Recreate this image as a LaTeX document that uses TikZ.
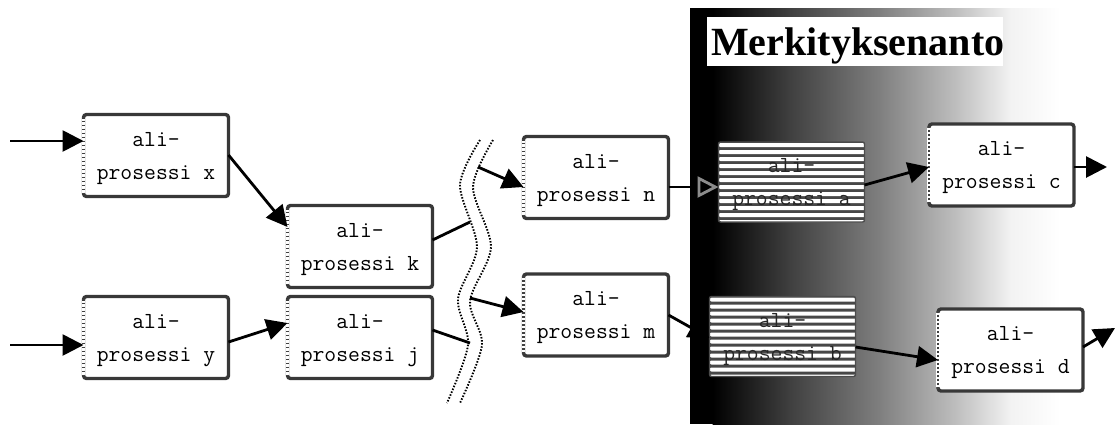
\documentclass[tikz,border=0pt]{standalone}
\usepackage{fontspec}
\setmainfont{Liberation Serif}
\usetikzlibrary{arrows.meta}
\begin{document}
\begin{tikzpicture}[x=1pt,y=-1pt,
  box/.style={draw=black!78, line width=3.4pt, rounded corners=3pt, fill=white,
    minimum width=145pt, minimum height=82pt, inner sep=0pt, outer sep=0pt},
  stripebox/.style={draw=black!70, line width=1.4pt, rounded corners=2pt, fill=black!72,
    minimum width=146pt, minimum height=80pt, inner sep=0pt, outer sep=0pt,
    path picture={\foreach \i in {0,...,11}
      \fill[white] ([yshift={-1pt-\i*7pt}]path picture bounding box.north west) rectangle ++(160pt,-4pt);}},
  lbl/.style={font=\ttfamily\fontsize{23}{33}\selectfont, align=center, inner sep=0pt, yshift=-2.8pt},
  dimlbl/.style={lbl, text=black!85},
  arr/.style={line width=2.8pt, -{Triangle[length=21pt,width=21pt]}},
  con/.style={line width=2.8pt},
  wave/.style={line width=1.9pt, dash pattern=on 1.5pt off 1.6pt},
  ledge/.style={black!75, line width=2.8pt, dash pattern=on 1.8pt off 2.2pt}
]
\useasboundingbox (0,0) rectangle (1117,424);
% dark gradient background
\fill[black] (690,8) rectangle (713,424);
\shade[left color=black, right color=black!75] (712.5,8) rectangle (790.5,424);
\shade[left color=black!75, right color=black!50] (790,8) rectangle (880.5,424);
\shade[left color=black!50, right color=black!24] (880,8) rectangle (960.5,424);
\shade[left color=black!24, right color=black!5] (960,8) rectangle (1010.5,424);
\shade[left color=black!5, right color=white] (1010,8) rectangle (1060,424);
% title
\fill[white] (707,17) rectangle (1003,66);
\node[anchor=base west, inner sep=0pt, font=\bfseries\fontsize{40}{40}\selectfont] (title) at (711,55) {Merkityksenanto};
% wavy break
\draw[wave] plot[smooth] coordinates {(480,140) (460,185) (477,247) (458,299) (468,345) (447,403)};
\draw[wave] plot[smooth] coordinates {(493,140) (473,187) (491,247) (470,301) (482,345) (460,403)};
\coordinate (wk) at (470,222);
\coordinate (wj) at (470,343);
\coordinate (wn) at (478,167);
\coordinate (wm) at (470,298);
\coordinate (inx) at (10,141);
\coordinate (iny) at (10,345);
\coordinate (outc) at (1107,167);
\coordinate (outd) at (1115,328);
% boxes
\node[box] (x) at (156,155.5) {};
\node[box] (y) at (156,337.5) {};
\node[box] (k) at (360,246.5) {};
\node[box] (j) at (360,337.5) {};
\node[box] (n) at (596,177.5) {};
\node[box] (m) at (596,315) {};
\node[box] (c) at (1001.5,165) {};
\node[box] (d) at (1010.5,350) {};
\node[stripebox] (a) at (791.5,182) {};
\node[stripebox] (b) at (782.5,336.5) {};
\foreach \n in {x,y,k,j,n,m,c,d} {
  \draw[white, line width=3.6pt] ([yshift=-4pt]\n.north west) -- ([yshift=4pt]\n.south west);
  \draw[ledge] ([yshift=-2pt]\n.north west) -- ([yshift=2pt]\n.south west);
}
\node[lbl] (xt) at (x) {ali-\\prosessi x};
\node[lbl] (yt) at (y) {ali-\\prosessi y};
\node[lbl] (kt) at (k) {ali-\\prosessi k};
\node[lbl] (jt) at (j) {ali-\\prosessi j};
\node[lbl] (nt) at (n) {ali-\\prosessi n};
\node[lbl] (mt) at (m) {ali-\\prosessi m};
\node[lbl] (ct) at (c) {ali-\\prosessi c};
\node[lbl] (dt) at (d) {ali-\\prosessi d};
\node[dimlbl] (at) at (a) {ali-\\prosessi a};
\node[dimlbl] (bt) at (b) {ali-\\prosessi b};
% connectors
\draw[arr] (inx) -- (x.west |- 0,141);
\draw[arr] (iny) -- (y.west |- 0,345);
\draw[arr] (x.east |- 0,155) -- (k.west |- 0,227);
\draw[arr] (y.east |- 0,342) -- (j.west |- 0,323);
\draw[con] (k.east |- 0,240) -- (wk);
\draw[con] (j.east |- 0,330) -- (wj);
\draw[arr] (wn) -- (n.west |- 0,187);
\draw[arr] (wm) -- (m.west |- 0,312);
\draw[line width=2.8pt, -{Triangle[length=21pt,width=21pt,color=black!45,fill=black]}] (n.east |- 0,187) -- (a.west |- 0,187);
\draw[arr] (m.east |- 0,315) -- (b.west |- 0,338);
\draw[arr] (a.east |- 0,185) -- (c.west |- 0,167);
\draw[arr] (b.east |- 0,347) -- (d.west |- 0,360);
\draw[arr] (c.east |- 0,167) -- (outc);
\draw[arr] (d.east |- 0,347) -- (outd);
\end{tikzpicture}
\end{document}
